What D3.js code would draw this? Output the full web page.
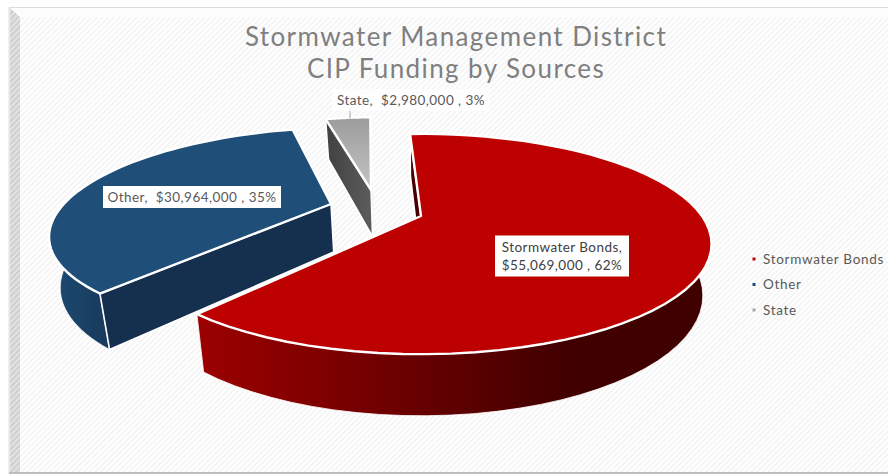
<!DOCTYPE html>
<html>
<head>
<meta charset="utf-8">
<script src="https://cdn.jsdelivr.net/npm/d3@7"></script>
<style>
  body { margin: 0; background: #fff; }
  text { font-family: Lato, "Open Sans", sans-serif; white-space: pre; }
</style>
</head>
<body>
<script>
const categories = ["Stormwater Bonds", "Other", "State"];
const values = [55069000, 30964000, 2980000];
const percents = [62, 35, 3];
const titleLines = ["Stormwater Management District", "CIP Funding by Sources"];

const width = 888, height = 474;
const money = d3.format("$,");

const svg = d3.select("body").append("svg")
    .attr("width", width)
    .attr("height", height)
    .style("display", "block");

const defs = svg.append("defs");

function hatch(id, back, stripe) {
    const p = defs.append("pattern")
        .attr("id", id)
        .attr("width", 4).attr("height", 4)
        .attr("patternUnits", "userSpaceOnUse")
        .attr("patternTransform", "rotate(45)");
    p.append("rect").attr("width", 4).attr("height", 4).attr("fill", back);
    p.append("rect").attr("width", 2).attr("height", 4).attr("fill", stripe);
}
hatch("bg", "#ffffff", "#f5f5f5");
hatch("bevel", "#e2e2e2", "#cfcfcf");

function gradient(id, x1, y1, x2, y2, stops) {
    const g = defs.append("linearGradient")
        .attr("id", id)
        .attr("gradientUnits", "userSpaceOnUse")
        .attr("x1", x1).attr("y1", y1).attr("x2", x2).attr("y2", y2);
    stops.forEach(s => g.append("stop").attr("offset", s[0]).attr("stop-color", s[1]));
}
gradient("redRim", 198, 0, 570, 0, [[0, "#9c0000"], [0.5, "#700000"], [1, "#400000"]]);
gradient("blueRim", 50, 0, 108, 0, [[0, "#1d4a73"], [1, "#183a5c"]]);
gradient("stateTop", 0, 121, 0, 190, [[0, "#9e9e9e"], [1, "#c4c4c4"]]);
gradient("stateSide", 328, 0, 371, 0, [[0, "#424242"], [1, "#5c5c5c"]]);

// frame
svg.append("rect").attr("x", 9).attr("y", 7).attr("width", width - 9).attr("height", height - 8)
    .attr("fill", "url(#bg)");
svg.append("path").attr("d", "M10,8H888V17H20Z").attr("fill", "#fdfdfd");
svg.append("path").attr("d", "M10,8L20,17V472H10Z").attr("fill", "url(#bevel)");
svg.append("path").attr("d", "M9,473V7.5H888").attr("fill", "none").attr("stroke", "#dcdcdc");
svg.append("line").attr("x1", 9).attr("x2", width).attr("y1", 473).attr("y2", 473)
    .attr("stroke", "#a8a8a8").attr("stroke-width", 1.5);

// title
svg.append("g").selectAll("text").data(titleLines).join("text")
    .attr("x", 456)
    .attr("y", (d, i) => 45.7 + i * 32.7)
    .attr("text-anchor", "middle")
    .attr("font-size", 26)
    .attr("letter-spacing", 1.4)
    .attr("fill", "#7f7f7f")
    .text(d => d);

// perspective view of the pie plane
const cx = 421, cy = 216, bx = 281, by = 103, persp = 0.2546;
const depth = 49, shrink = 0.97;

function project(u, v, low) {
    const s = 1 / (1 - persp * v);
    if (!low) return [cx + bx * u * s, cy + by * v * s];
    return [cx + bx * u * s * shrink, cy + by * v * s * shrink + depth * s];
}

const pie = d3.pie().sort(null).startAngle(-2.8 * Math.PI / 180)
    .endAngle((360 - 2.8) * Math.PI / 180);
const arcs = pie(values);

// how far each slice is pulled out, and its radius, in pie radii
const pull = {
    "Stormwater Bonds": [0, 0, 1],
    "Other": [-0.33, -0.12, 0.98],
    "State": [-0.19, -0.27, 1]
};

const line = d3.line();

const slices = arcs.map((a, i) => {
    const off = pull[categories[i]];
    const rim = low => d3.range(0, 61).map(k => {
        const t = a.startAngle + (a.endAngle - a.startAngle) * k / 60;
        return project(off[2] * Math.sin(t) + off[0], -off[2] * Math.cos(t) + off[1], low);
    });
    const hub = low => project(off[0], off[1], low);
    return { name: categories[i], rim, hub };
});

const looks = {
    "Stormwater Bonds": { top: "#bd0000", wall: "url(#redRim)", startCut: "#4a0000", endCut: "#700000" },
    "Other": { top: "#1f4e79", wall: "url(#blueRim)", startCut: "#152f4e", endCut: "#152f4e" },
    "State": { top: "url(#stateTop)", wall: "url(#stateSide)", startCut: "url(#stateSide)", endCut: "url(#stateSide)" }
};

const pieG = svg.append("g").attr("stroke", "#fff").attr("stroke-linejoin", "round");

function drawSlice(s) {
    const look = looks[s.name];
    const up = s.rim(false), down = s.rim(true);
    const n = up.length - 1;
    pieG.append("path").attr("fill", look.endCut).attr("stroke-width", 0.8)
        .attr("d", line([s.hub(false), up[n], down[n], s.hub(true)]) + "Z");
    pieG.append("path").attr("fill", look.wall).attr("stroke-width", 0.8)
        .attr("d", line(up.concat(down.slice().reverse())) + "Z");
    pieG.append("path").attr("fill", look.startCut).attr("stroke-width", 1.6)
        .attr("d", line([s.hub(false), up[0], down[0], s.hub(true)]) + "Z");
    pieG.append("path").attr("fill", look.top).attr("stroke-width", 2.4)
        .attr("d", line([s.hub(false)].concat(up)) + "Z");
}
// back to front
[slices[2], slices[1], slices[0]].forEach(drawSlice);

// leader for the State label
svg.append("line").attr("x1", 350).attr("x2", 350).attr("y1", 108).attr("y2", 121)
    .attr("stroke", "#a6a6a6").attr("stroke-width", 1);

// data labels
const labelText = i => money(values[i]) + " , " + percents[i] + "%";
const labelSpots = [
    { x: 562, y: 256, w: 134, h: 41, lines: [categories[0] + ",", labelText(0)] },
    { x: 192, y: 197, w: 178, h: 22, lines: [categories[1] + ",  " + labelText(1)] },
    { x: 411, y: 100, w: 158, h: 22, lines: [categories[2] + ",  " + labelText(2)], soft: true }
];
const lab = svg.append("g").selectAll("g").data(labelSpots).join("g");
lab.append("rect")
    .attr("x", d => d.x - d.w / 2)
    .attr("y", d => d.y - d.h / 2)
    .attr("width", d => d.w)
    .attr("height", d => d.h)
    .attr("fill", "#fff")
    .attr("fill-opacity", d => d.soft ? 0.8 : 1);
lab.each(function (d, i) {
    d3.select(this).selectAll("text").data(d.lines).join("text")
        .attr("x", d.x)
        .attr("y", (t, k) => d.y + 4.5 + (k - (d.lines.length - 1) / 2) * 18)
        .attr("text-anchor", "middle")
        .attr("font-size", 13.5)
        .attr("letter-spacing", 0.45)
        .attr("fill", i === 0 ? "#404040" : "#595959")
        .text(t => t);
});

// legend
const legendColors = ["#c00000", "#1f4e79", "#a6a6a6"];
const legendY = d3.scalePoint().domain(categories).range([259, 310]);
const leg = svg.append("g").selectAll("g").data(categories).join("g")
    .attr("transform", d => `translate(754,${legendY(d)})`);
leg.append("rect").attr("x", -1.5).attr("y", -1.5).attr("width", 3).attr("height", 3)
    .attr("fill", (d, i) => legendColors[i]);
leg.append("text").attr("x", 9).attr("y", 4.5)
    .attr("font-size", 13.5)
    .attr("letter-spacing", 0.7)
    .attr("fill", "#595959")
    .text(d => d);
</script>
</body>
</html>
